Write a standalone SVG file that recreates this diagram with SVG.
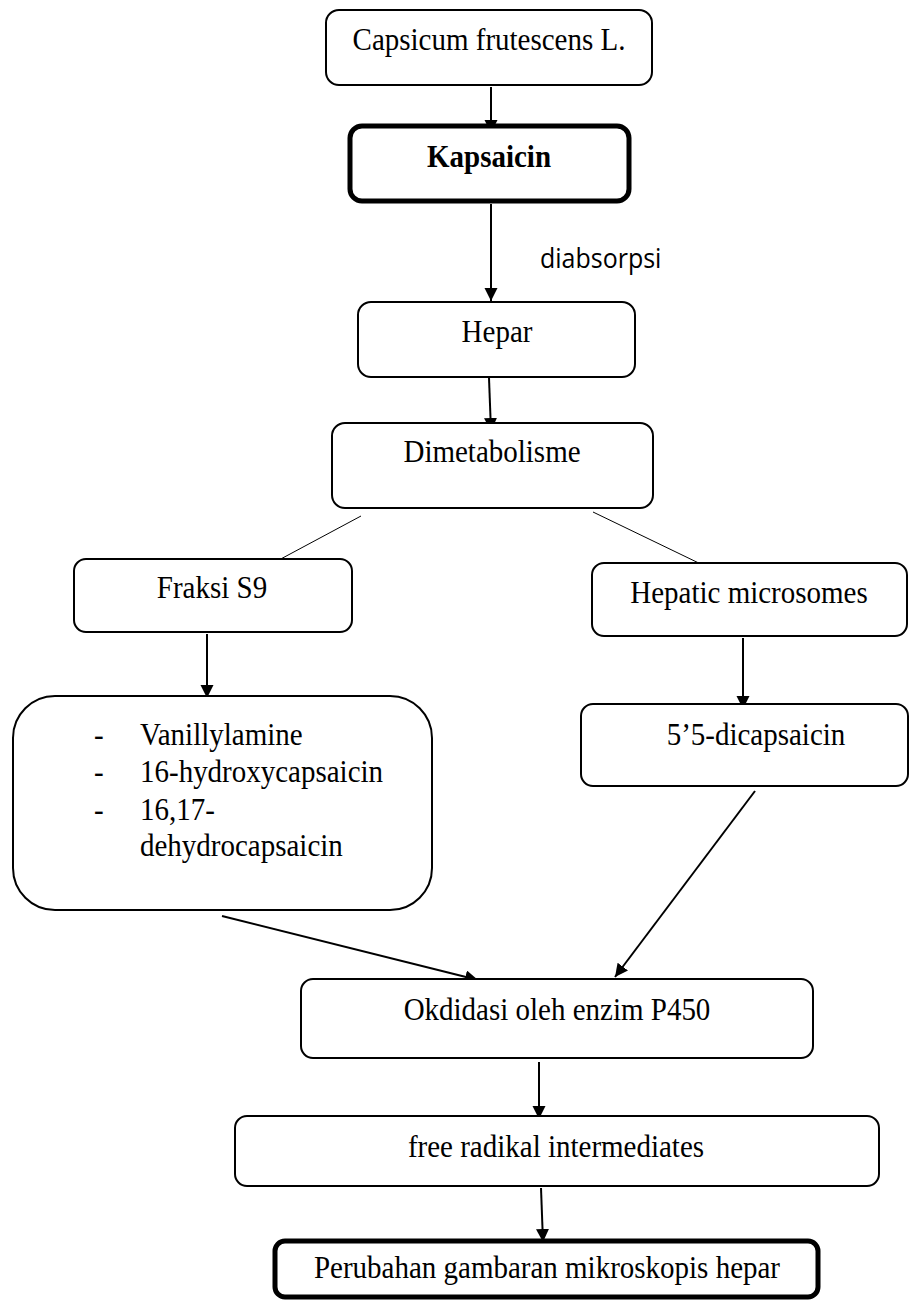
<svg xmlns="http://www.w3.org/2000/svg" width="923" height="1301" viewBox="0 0 923 1301">
<style>
  .box { fill: #fff; stroke: #000; stroke-width: 2; }
  .thick { fill: #fff; stroke: #000; stroke-width: 5; }
  .t { font-family: "Liberation Serif", "Times New Roman", serif; font-size: 29px; fill: #000; text-anchor: middle; }
  .tl { font-family: "Liberation Serif", "Times New Roman", serif; font-size: 29px; fill: #000; }
  .b { font-weight: bold; }
  .lbl { font-family: "Open Sans", "Liberation Sans", sans-serif; font-size: 25px; fill: #000; }
  .arr { stroke: #000; stroke-width: 2; fill: none; marker-end: url(#ah); }
  .thin { stroke: #000; stroke-width: 1; fill: none; }
</style>
<defs>
  <marker id="ah" markerUnits="userSpaceOnUse" markerWidth="14" markerHeight="14" refX="13" refY="6.5" orient="auto">
    <path d="M0,0 L13,6.5 L0,13 z" fill="#000"/>
  </marker>
</defs>
<rect width="923" height="1301" fill="#fff"/>

<g id="connectors">
  <line class="arr" x1="491" y1="87" x2="491" y2="133"/>
  <line class="arr" x1="491" y1="204" x2="491" y2="301"/>
  <line class="arr" x1="489" y1="378" x2="491" y2="431"/>
  <line class="thin" x1="361" y1="516" x2="277" y2="561"/>
  <line class="thin" x1="593" y1="512" x2="707" y2="567"/>
  <line class="arr" x1="207" y1="634" x2="207" y2="698"/>
  <line class="arr" x1="743" y1="638" x2="743" y2="709"/>
  <line class="arr" x1="222" y1="916" x2="478" y2="980"/>
  <line class="arr" x1="755" y1="791" x2="615" y2="977"/>
  <line class="arr" x1="539" y1="1062" x2="539" y2="1119"/>
  <line class="arr" x1="541" y1="1188" x2="543" y2="1242"/>
  <text class="lbl" transform="translate(540,268) scale(1,1.12)">diabsorpsi</text>
</g>

<g id="capsicum">
  <rect class="box" x="326" y="10" width="326" height="75" rx="13"/>
  <text class="t" transform="translate(489,50) scale(1,1.1)">Capsicum frutescens L.</text>
</g>
<g id="kapsaicin">
  <rect class="thick" x="350" y="126" width="279" height="75" rx="12"/>
  <text class="t b" transform="translate(489,167) scale(1,1.1)">Kapsaicin</text>
</g>
<g id="hepar">
  <rect class="box" x="358" y="302" width="277" height="75" rx="13"/>
  <text class="t" transform="translate(497,342) scale(1,1.1)">Hepar</text>
</g>
<g id="dimetabolisme">
  <rect class="box" x="332" y="423" width="321" height="85" rx="13"/>
  <text class="t" transform="translate(492,462) scale(1,1.1)">Dimetabolisme</text>
</g>
<g id="fraksi">
  <rect class="box" x="74" y="559" width="278" height="73" rx="12"/>
  <text class="t" transform="translate(212,598) scale(1,1.1)">Fraksi S9</text>
</g>
<g id="hepatic">
  <rect class="box" x="592" y="563" width="315" height="73" rx="12"/>
  <text class="t" transform="translate(749,603) scale(1,1.1)">Hepatic microsomes</text>
</g>
<g id="metabolit">
  <rect class="box" x="13" y="696" width="419" height="214" rx="42"/>
  <text class="tl" transform="translate(94,745) scale(1,1.1)">-</text>
  <text class="tl" transform="translate(140,745) scale(1,1.1)">Vanillylamine</text>
  <text class="tl" transform="translate(94,782) scale(1,1.1)">-</text>
  <text class="tl" transform="translate(140,782) scale(1,1.1)">16-hydroxycapsaicin</text>
  <text class="tl" transform="translate(94,820) scale(1,1.1)">-</text>
  <text class="tl" transform="translate(140,820) scale(1,1.1)">16,17-</text>
  <text class="tl" transform="translate(140,856) scale(1,1.1)">dehydrocapsaicin</text>
</g>
<g id="dicapsaicin">
  <rect class="box" x="581" y="704" width="327" height="82" rx="12"/>
  <text class="t" transform="translate(756,745) scale(1,1.1)">5’5-dicapsaicin</text>
</g>
<g id="okdidasi">
  <rect class="box" x="301" y="979" width="512" height="79" rx="12"/>
  <text class="t" transform="translate(557,1020) scale(1,1.1)">Okdidasi oleh enzim P450</text>
</g>
<g id="freeradikal">
  <rect class="box" x="235" y="1116" width="644" height="70" rx="12"/>
  <text class="t" transform="translate(556,1157) scale(1,1.1)">free radikal intermediates</text>
</g>
<g id="perubahan">
  <rect class="thick" x="275" y="1241" width="543" height="56" rx="10"/>
  <text class="t" transform="translate(547,1278) scale(1,1.1)">Perubahan gambaran mikroskopis hepar</text>
</g>
</svg>
